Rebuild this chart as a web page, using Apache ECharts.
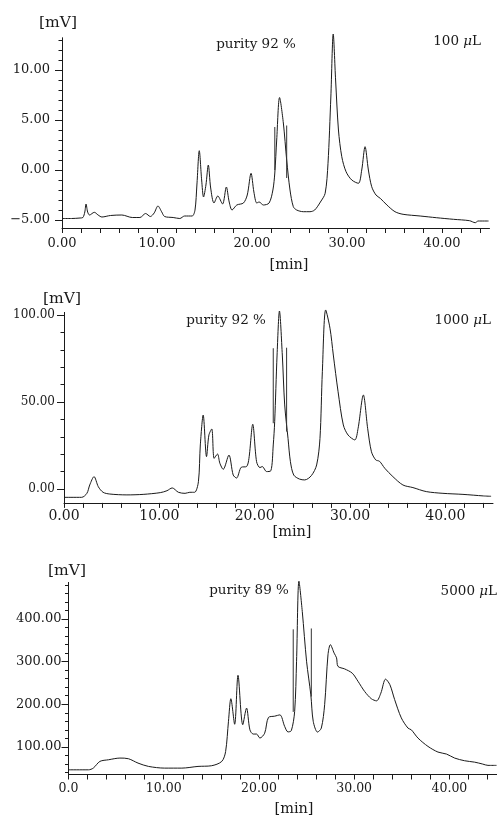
<!DOCTYPE html>
<html><head><meta charset="utf-8">
<script src="https://cdn.jsdelivr.net/npm/echarts@6/dist/echarts.min.js"></script>
<style>html,body{margin:0;padding:0;background:#fff}#c{width:497px;height:816px}</style>
</head><body><div id="c"></div>
<script>
// ---- x axis (min) ----
const xTickVals = [0,2,4,6,8,10,12,14,16,18,20,22,24,26,28,30,32,34,36,38,40,42,44];
const xLabelVals = [0,10,20,30,40];

// ---- panel 1 : 100 uL ----
const t100 = [0,1.0,1.9,2.2,2.4,2.53,2.7,2.9,3.4,3.8,4.2,5.1,6.3,7.4,8.2,8.8,9.3,9.7,10.1,10.5,10.8,11.7,12.4,12.9,13.7,14.0,14.2,14.45,14.7,14.9,15.15,15.4,15.65,16.0,16.4,16.9,17.3,17.6,17.9,18.4,19.1,19.5,19.9,20.2,20.5,20.75,21.2,21.8,22.2,22.4,22.6,22.9,23.3,23.65,24.0,24.35,24.7,25.4,26.1,26.6,27.2,27.7,28.0,28.3,28.55,28.8,29.1,29.45,29.9,30.5,31.2,31.55,31.9,32.25,32.6,33.05,33.5,34.2,35.05,35.9,37.7,39.4,41.2,42.9,43.5,43.8,44.9];
const v100 = [-4.85,-4.85,-4.8,-4.75,-4.2,-3.4,-4.2,-4.5,-4.23,-4.5,-4.7,-4.55,-4.5,-4.75,-4.75,-4.35,-4.65,-4.3,-3.6,-4.2,-4.65,-4.75,-4.85,-4.6,-4.6,-4.0,-1.5,1.93,-1.0,-2.7,-1.5,0.5,-1.8,-3.3,-2.6,-3.4,-1.7,-3.2,-4.0,-3.5,-3.3,-2.5,-0.33,-2.2,-3.3,-3.2,-3.5,-3.3,-2.0,-0.3,3.0,7.25,4.7,1.0,-2.0,-3.67,-4.0,-4.17,-4.17,-4.0,-3.2,-2.33,0.67,7.3,13.6,9.0,4.0,1.33,-0.17,-1.0,-1.33,0,2.33,0,-1.67,-2.5,-2.83,-3.5,-4.17,-4.43,-4.6,-4.77,-4.93,-5.07,-5.27,-5.1,-5.1];
const cutT100 = [22.4, 23.65];
const cutLo100 = [0.0, -0.8];
const cutHi100 = [4.3, 4.45];
const yMajor100 = [-5,0,5,10];
const yMinor100 = [-5,-4,-3,-2,-1,0,1,2,3,4,5,6,7,8,9,10,11,12,13];

// ---- panel 2 : 1000 uL ----
const t1000 = [0,1.85,2.4,2.7,3.15,3.6,4.1,4.8,6.6,8.3,10.1,10.8,11.35,12.0,12.7,13.2,13.7,14.1,14.3,14.6,14.95,15.2,15.5,15.75,16.1,16.35,16.7,17.3,17.75,18.1,18.6,19.15,19.4,19.8,20.2,20.55,20.8,21.25,21.7,21.95,22.1,22.35,22.6,22.9,23.15,23.5,23.75,24.1,24.7,25.25,25.95,26.5,26.85,27.1,27.45,27.9,28.25,28.75,29.3,29.8,30.5,30.85,31.4,31.85,32.25,32.7,33.1,33.65,34.5,35.55,36.6,38.0,39.75,41.85,44.0,44.8];
const v1000 = [-4.8,-4.8,-2.5,2.3,7.1,1.3,-1.9,-2.9,-3.4,-3.1,-2.1,-1.0,0.6,-1.9,-2.5,-1.9,-1.9,4.2,25.3,42.5,18.6,31,34.5,17.6,20.1,14.8,11.3,19.5,8.0,6.3,12.5,12.9,17.6,37.2,15.7,12.3,12.9,10,10.5,25.3,38.7,77,102.3,77,48.3,29,15.7,8.0,5.7,5.2,7.7,13.8,29,67.4,102.9,92.4,77,55.9,36.8,31,28.2,34.9,54,34.9,21.4,16.7,15.9,11.9,7.1,2.3,0.8,-1.5,-2.5,-3.1,-4.0,-4.2];
const cutT1000 = [21.95, 23.35];
const cutLo1000 = [37.8, 33];
const cutHi1000 = [80.9, 81.2];
const yMajor1000 = [0,50,100];
const yMinor1000 = [0,10,20,30,40,50,60,70,80,90,100];

// ---- panel 3 : 5000 uL ----
const t5000 = [0,2.1,2.6,3.3,4.2,5.4,6.3,7.3,8.4,10.1,11.9,13.6,15.0,16.1,16.5,16.8,17.05,17.45,17.8,18.3,18.7,19.05,19.4,19.75,20.1,20.6,21.0,21.65,22.2,22.7,23.05,23.4,23.75,23.95,24.2,24.55,25.0,25.45,25.7,26.15,26.55,26.9,27.25,27.5,27.9,28.15,28.3,29.0,29.8,30.4,31.1,31.8,32.35,32.8,33.3,33.75,34.25,34.95,35.65,36.0,36.7,37.75,38.8,39.7,40.55,41.6,42.65,43.5,44.05,44.95];
const v5000 = [46,46,50,65.8,69.6,73.6,72,61.8,54,50,50,54,55.5,65.8,89,160,213,153,268,152,191,140,130,130,120.6,132,169,172,175,148,135,138,183,301,489,418,301,222,160,134.7,144,199,316,340,320,309,289,283,273,254,230,213,208,226,259,246,211,168,144,140,120.6,101,87.7,83,73.6,67.3,64,59.5,56.4,56.4];
const cutT5000 = [23.6, 25.5];
const cutLo5000 = [182, 218];
const cutHi5000 = [376, 378];
const yMajor5000 = [100,200,300,400];
const yMinor5000 = [40,60,80,100,120,140,160,180,200,220,240,260,280,300,320,340,360,380,400,420,440,460,480];

const FONT = 'DejaVu Serif';
const INK = '#1a1a1a';

const panels = [
  {t:t100, v:v100, ct:cutT100, cl:cutLo100, ch:cutHi100, maj:yMajor100, min:yMinor100,
   ymin:-5.8, ymax:13.2, grid:{left:62, top:38, width:427.5, height:190},
   yfs:13, ymargin:12, xfs:13, xmargin:9, zeroLabel:'0.00'},
  {t:t1000, v:v1000, ct:cutT1000, cl:cutLo1000, ch:cutHi1000, maj:yMajor1000, min:yMinor1000,
   ymin:-8, ymax:101.5, grid:{left:64, top:312.4, width:429, height:190.5},
   yfs:12, ymargin:9, xfs:14, xmargin:6, zeroLabel:'0.00'},
  {t:t5000, v:v5000, ct:cutT5000, cl:cutLo5000, ch:cutHi5000, maj:yMajor5000, min:yMinor5000,
   ymin:35, ymax:486, grid:{left:68.5, top:582.5, width:428.5, height:192},
   yfs:13, ymargin:7, xfs:12.5, xmargin:8, zeroLabel:'0.0'}
];

const fmt = v => (v < 0 ? '\u2212' + Math.abs(v).toFixed(2) : v.toFixed(2));

const grids = [], xAxes = [], yAxes = [], series = [];
panels.forEach((p, i) => {
  grids.push(Object.assign({containLabel:false}, p.grid));
  xAxes.push({
    type:'value', gridIndex:i, min:0, max:45,
    axisLine:{show:true, onZero:false, lineStyle:{color:INK, width:1}},
    axisTick:{show:true, inside:false, length:5, customValues:xTickVals, lineStyle:{color:INK}},
    axisLabel:{show:true, customValues:xLabelVals, margin:p.xmargin, color:INK, fontFamily:FONT, fontSize:p.xfs,
      formatter: v => v === 0 ? p.zeroLabel : v.toFixed(2)},
    splitLine:{show:false}
  });
  yAxes.push({
    type:'value', gridIndex:i, min:p.ymin, max:p.ymax, position:'left', offset:0,
    axisLine:{show:true, onZero:false, lineStyle:{color:INK, width:1}},
    axisTick:{show:true, inside:false, length:7, customValues:p.maj, lineStyle:{color:INK}},
    axisLabel:{show:true, customValues:p.maj, margin:p.ymargin, color:INK, fontFamily:FONT, fontSize:p.yfs, formatter:fmt},
    splitLine:{show:false}
  });
  yAxes.push({
    type:'value', gridIndex:i, min:p.ymin, max:p.ymax, position:'left', offset:0,
    axisLine:{show:true, onZero:false, lineStyle:{color:INK, width:1}},
    axisTick:{show:true, inside:false, length:3.5, customValues:p.min, lineStyle:{color:INK}},
    axisLabel:{show:false},
    splitLine:{show:false}
  });
  series.push({
    type:'line', xAxisIndex:i, yAxisIndex:2*i, data:p.t.map((t,k)=>[t,p.v[k]]),
    showSymbol:false, smooth:0.3, clip:false, silent:true,
    lineStyle:{color:INK, width:1}
  });
  const cuts = [];
  p.ct.forEach((t,k)=>{ cuts.push([t,p.cl[k]]); cuts.push([t,p.ch[k]]); cuts.push(null); });
  series.push({
    type:'line', xAxisIndex:i, yAxisIndex:2*i, data:cuts, connectNulls:false,
    showSymbol:false, clip:false, silent:true,
    lineStyle:{color:'#333', width:1}
  });
});

const txt = (x, y, text, size, align, rich) => ({
  type:'text', x, y, silent:true,
  style:{text, fill:INK, font:`${size}px "${FONT}"`, fontFamily:FONT, fontSize:size, align, verticalAlign:'middle', rich}
});
const muRich = {i:{fontStyle:'italic', fontFamily:FONT, fontSize:13.5, fill:INK}};

const chart = echarts.init(document.getElementById('c'), null, {renderer:'canvas'});
chart.setOption({
  backgroundColor:'#ffffff',
  animation:false,
  grid:grids, xAxis:xAxes, yAxis:yAxes, series,
  graphic:[
    txt(58, 23, '[mV]', 15.5, 'center'),
    txt(256, 44, 'purity 92 %', 13.5, 'center'),
    txt(481, 41, '100 {i|\u03bc}L', 13.5, 'right', muRich),
    txt(289, 265, '[min]', 14.5, 'center'),
    txt(62, 299, '[mV]', 15.5, 'center'),
    txt(226, 320, 'purity 92 %', 13.5, 'center'),
    txt(491, 320, '1000 {i|\u03bc}L', 13.5, 'right', muRich),
    txt(292, 532, '[min]', 14.5, 'center'),
    txt(67, 571, '[mV]', 15.5, 'center'),
    txt(249, 590, 'purity 89 %', 13.5, 'center'),
    txt(497, 591, '5000 {i|\u03bc}L', 13.5, 'right', muRich),
    txt(294, 809, '[min]', 14.5, 'center')
  ]
});
</script>
</body></html>
